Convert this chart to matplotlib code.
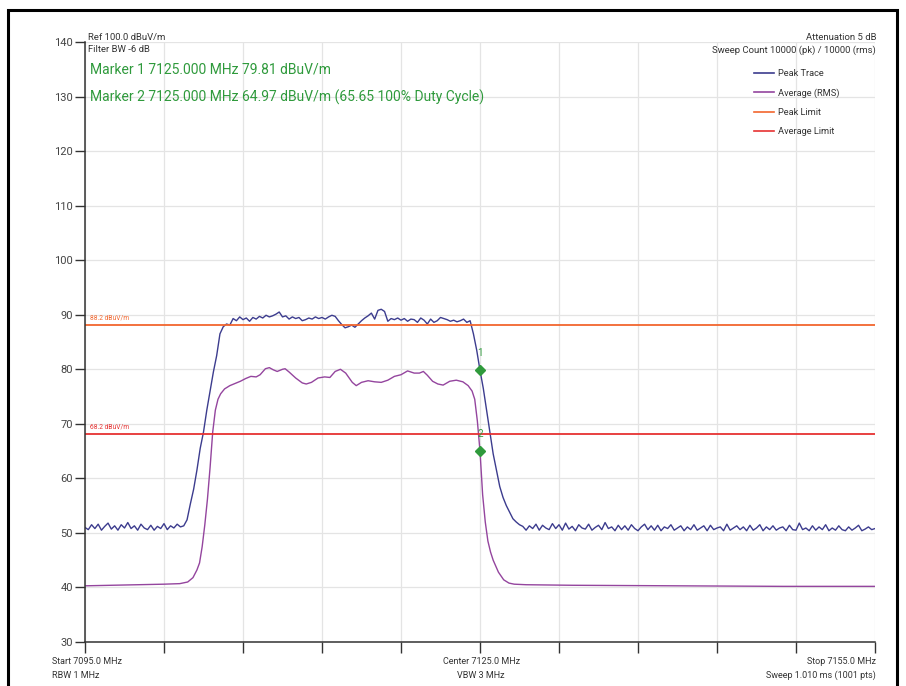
import numpy as np
import matplotlib
matplotlib.use("Agg")
import matplotlib.pyplot as plt
from matplotlib.patches import Rectangle
from matplotlib.lines import Line2D

plt.rcParams['font.family'] = ['Roboto', 'DejaVu Sans']

# Sweep settings (MHz)
start_freq = 7095.0
stop_freq = 7155.0
center_freq = 7125.0

# Peak trace, read every 0.25 MHz from 7095 to 7155 MHz (dBuV/m), 241 pts
peak_levels = [
    # 7095 - 7102.25 noise floor (30)
    51.0, 50.6, 51.5, 50.8, 51.6, 50.5, 51.2, 51.8, 50.7, 51.3,
    50.5, 51.5, 50.9, 51.9, 50.8, 51.3, 50.5, 51.6, 50.9, 50.6,
    51.4, 50.5, 51.2, 50.8, 51.7, 50.6, 51.3, 50.9, 51.6, 51.1,
    # 7102.5 - 7105.75 rising edge (14)
    51.3, 52.4, 55.3, 58.0, 61.5, 65.5, 68.5, 72.5, 76.0, 79.5,
    82.5, 86.5, 87.8, 88.3,
    # 7106 - 7124.25 top of channel (74)
    88.1, 89.3, 88.9, 89.6, 89.1, 89.4, 88.8, 89.5, 89.2, 89.7,
    89.4, 89.9, 89.6, 89.8, 90.1, 90.5,
    89.6, 89.8, 89.2, 89.6, 89.3, 89.5, 88.9, 89.1, 89.4, 89.2,
    89.6, 89.3, 89.5, 89.2, 89.6, 89.9, 89.7,
    88.9, 88.2, 87.6, 87.8, 88.1, 87.7, 88.3, 88.9,
    89.4, 89.8, 90.3, 89.2, 90.8, 91.0, 90.6, 88.8,
    89.3, 89.1, 89.4, 89.0, 89.3, 88.8, 89.2, 89.1, 88.6, 89.4,
    89.0, 88.3, 89.2, 88.6, 88.9, 89.5, 89.3, 89.1, 88.8, 89.0,
    88.7, 88.9, 89.2, 88.6, 88.9,
    # 7124.5 - 7128 falling edge (15)
    86.5, 83.5, 79.8, 76.5, 72.5, 68.5, 64.5, 61.5, 58.5, 56.5,
    55.0, 53.8, 52.6, 52.0, 51.5,
    # 7128.25 - 7155 noise floor (108)
    51.2, 50.5, 51.3, 50.8, 51.6, 50.5, 51.4, 50.9, 50.6, 51.7,
    50.8, 51.5, 50.5, 51.8, 50.7, 51.2, 50.4, 51.5, 50.9, 50.7,
    51.6, 50.5, 51.0, 51.4, 50.6, 51.9, 50.8, 51.1, 50.4, 51.4,
    50.6, 51.3, 50.5, 51.5, 50.8, 50.4, 51.1, 51.6, 50.6, 51.3,
    50.5, 51.4, 50.4, 51.1, 50.8, 51.5, 50.5, 50.9, 51.3, 50.4,
    51.1, 50.6, 51.5, 50.5, 50.9, 51.3, 50.4, 51.4, 50.6, 50.9,
    51.1, 50.4, 51.6, 50.5, 50.9, 51.3, 50.6, 51.1, 50.4, 51.4,
    50.5, 50.9, 51.5, 50.4, 51.1, 50.6, 51.3, 50.5, 50.9, 51.1,
    50.4, 51.4, 50.6, 50.5, 51.8, 50.6, 50.9, 50.4, 51.3, 50.5,
    51.1, 50.6, 51.5, 50.4, 50.9, 50.5, 51.3, 50.6, 50.4, 51.1,
    50.5, 50.9, 51.4, 50.4, 50.7, 51.1, 50.6, 50.8,
]
peak_freqs = np.linspace(start_freq, stop_freq, len(peak_levels))

# Average (RMS) trace
avg_freqs = [
    7095.0, 7097.0, 7099.0, 7101.0, 7102.2, 7102.8, 7103.2, 7103.5, 7103.7,
    7103.9, 7104.1, 7104.3, 7104.5, 7104.7, 7104.9, 7105.1, 7105.3, 7105.6,
    7106.0, 7106.5, 7106.8, 7107.2, 7107.6, 7108.0, 7108.3, 7108.7, 7109.0,
    7109.3, 7109.6, 7110.0, 7110.2, 7110.5, 7111.0, 7111.5, 7111.8, 7112.2,
    7112.7, 7113.2, 7113.6, 7114.0, 7114.4, 7114.8, 7115.3, 7115.6, 7116.0,
    7116.5, 7117.0, 7117.5, 7118.0, 7118.5, 7119.0, 7119.5, 7120.0, 7120.4,
    7120.7, 7121.0, 7121.4, 7121.8, 7122.2, 7122.7, 7123.2, 7123.7, 7124.1,
    7124.4, 7124.6, 7124.8, 7125.0, 7125.2, 7125.4, 7125.6, 7125.8, 7126.0,
    7126.4, 7126.8, 7127.2, 7127.6, 7128.5, 7132.0, 7140.0, 7148.0, 7155.0,
]
avg_levels = [
    40.3, 40.4, 40.5, 40.6, 40.7, 41.0, 41.8, 43.2, 44.5,
    47.5, 51.5, 56.2, 62.0, 68.5, 72.5, 74.5, 75.5, 76.4,
    77.0, 77.5, 77.8, 78.3, 78.7, 78.6, 79.0, 80.1, 80.3,
    79.9, 79.6, 80.0, 80.1, 79.5, 78.4, 77.5, 77.3, 77.6,
    78.4, 78.6, 78.5, 79.6, 80.0, 79.3, 77.6, 77.0, 77.6,
    77.9, 77.7, 77.6, 78.0, 78.7, 79.0, 79.7, 79.3, 79.3,
    79.6, 78.9, 77.8, 77.3, 77.1, 77.8, 78.0, 77.7, 77.0,
    76.0, 74.5, 70.5, 65.0, 57.0, 52.0, 48.5, 46.5, 45.0,
    42.8, 41.4, 40.8, 40.6, 40.5, 40.4, 40.3, 40.2, 40.2,
]

# Limits and markers
peak_limit = 88.2
avg_limit = 68.2
marker_freqs = [7125.0, 7125.0]
marker_levels = [79.81, 64.97]
marker_names = ['1', '2']

W, H = 906, 686
fig = plt.figure(figsize=(W / 100, H / 100), dpi=100)
ax = fig.add_axes([85 / W, 1 - 642 / H, 790 / W, 600 / H])

grid_col = '#e4e4e4'
ax.set_xlim(start_freq, stop_freq)
ax.set_ylim(30, 140)
ax.set_xticks(np.arange(start_freq, stop_freq + 0.1, 6.0))
ax.set_yticks(np.arange(30, 141, 10))
ax.set_xticklabels([])
ax.grid(True, color=grid_col, linewidth=0.9)
ax.set_axisbelow(True)
for s in ['top', 'right']:
    ax.spines[s].set_visible(False)
for s in ['left', 'bottom']:
    ax.spines[s].set_color('#333333')
    ax.spines[s].set_linewidth(1.1)
ax.tick_params(axis='y', length=7, width=1, color='#333333',
               labelsize=8, labelcolor='#444444', pad=1.5)
ax.tick_params(axis='x', length=8, width=1, color='#333333')

peak_col = '#3c3c8e'
avg_col = '#94459e'
plimit_col = '#f2662e'
alimit_col = '#e63232'
green = '#2f9a3c'

ax.plot(avg_freqs, avg_levels, color=avg_col, linewidth=1.0)
ax.plot(peak_freqs, peak_levels, color=peak_col, linewidth=1.0)
ax.axhline(peak_limit, color=plimit_col, linewidth=1.3)
ax.axhline(avg_limit, color=alimit_col, linewidth=1.3)
ax.text(start_freq + 0.35, peak_limit + 0.6, '%.1f dBuV/m' % peak_limit,
        color=plimit_col, fontsize=4.8, va='bottom')
ax.text(start_freq + 0.35, avg_limit + 0.6, '%.1f dBuV/m' % avg_limit,
        color=alimit_col, fontsize=4.8, va='bottom')

ax.plot(marker_freqs, marker_levels, linestyle='none', marker='D',
        markersize=5, color=green)
for f, lv, nm in zip(marker_freqs, marker_levels, marker_names):
    ax.text(f, lv + 2.3, nm, color=green, fontsize=7, ha='center', va='bottom')

# Legend
handles = [Line2D([], [], color=peak_col, linewidth=1.2),
           Line2D([], [], color=avg_col, linewidth=1.2),
           Line2D([], [], color=plimit_col, linewidth=1.2),
           Line2D([], [], color=alimit_col, linewidth=1.2)]
labels = ['Peak Trace', 'Average (RMS)', 'Peak Limit', 'Average Limit']
fig.legend(handles, labels, loc='upper left',
           bbox_to_anchor=(754 / W, 1 - 69 / H), frameon=False,
           fontsize=6.7, handlelength=2.2, handletextpad=0.4,
           labelspacing=1.1, borderpad=0, borderaxespad=0,
           labelcolor='#333333')

# Instrument annotations
txt = '#333333'
fs = 6.8
fig.text(88 / W, 1 - 37 / H, 'Ref 100.0 dBuV/m', fontsize=fs, color=txt, va='center')
fig.text(88 / W, 1 - 49 / H, 'Filter BW -6 dB', fontsize=fs, color=txt, va='center')
fig.text(90 / W, 1 - 70 / H, 'Marker 1 7125.000 MHz 79.81 dBuV/m',
         fontsize=10, color=green, va='center')
fig.text(90 / W, 1 - 97 / H,
         'Marker 2 7125.000 MHz 64.97 dBuV/m (65.65 100% Duty Cycle)',
         fontsize=10, color=green, va='center')
fig.text(876 / W, 1 - 37 / H, 'Attenuation 5 dB', fontsize=fs, color=txt,
         va='center', ha='right')
fig.text(876 / W, 1 - 50 / H, 'Sweep Count 10000 (pk) / 10000 (rms)',
         fontsize=fs, color=txt, va='center', ha='right')

fs2 = 6.5
fig.text(52 / W, 1 - 661 / H, 'Start 7095.0 MHz', fontsize=fs2, color=txt, va='center')
fig.text(52 / W, 1 - 675 / H, 'RBW 1 MHz', fontsize=fs2, color=txt, va='center')
fig.text(481 / W, 1 - 661 / H, 'Center 7125.0 MHz', fontsize=fs2, color=txt,
         va='center', ha='center')
fig.text(481 / W, 1 - 675 / H, 'VBW 3 MHz', fontsize=fs2, color=txt,
         va='center', ha='center')
fig.text(876 / W, 1 - 661 / H, 'Stop 7155.0 MHz', fontsize=fs2, color=txt,
         va='center', ha='right')
fig.text(876 / W, 1 - 675 / H, 'Sweep 1.010 ms (1001 pts)', fontsize=fs2,
         color=txt, va='center', ha='right')

# Outer black frame
fig.add_artist(Rectangle((8 / W, -0.02), 889 / W, 1.02 - 10 / H,
                         transform=fig.transFigure, fill=False,
                         edgecolor='black', linewidth=2.2))

fig.savefig('out.png', dpi=100)
